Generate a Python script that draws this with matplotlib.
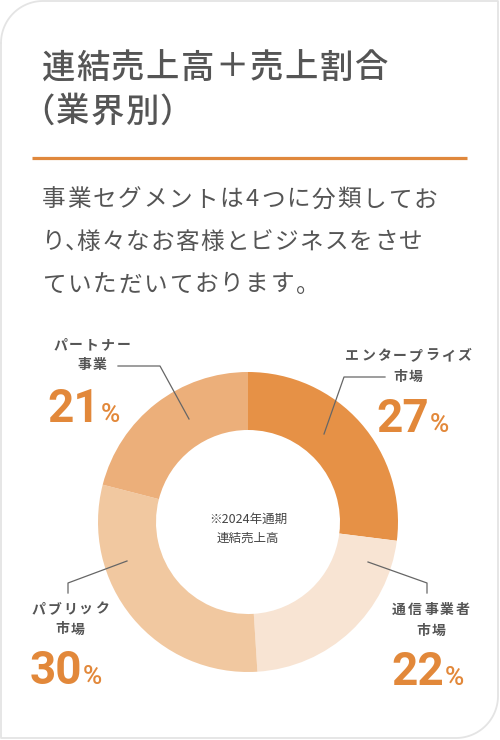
import numpy as np
from matplotlib import pyplot as plt

plt.rcParams['font.family'] = ['Noto Sans CJK JP', 'DejaVu Sans']

# data
segments = [['エンタープライズ', '市場'], ['通信事業者', '市場'], ['パブリック', '市場'], ['パートナー', '事業']]
shares = [27, 22, 30, 21]
colors = ['#E69146', '#F8E4D3', '#F1C8A0', '#ECAF7A']

title_lines = ['連結売上高＋売上割合', '（業界別）']
body_lines = ['事業セグメントは4つに分類してお', 'り、様々なお客様とビジネスをさせ', 'ていただいております。']
center_note = ['※2024年通期', '連結売上高']

# label layout (pixel coords, y down): centre x, first line y, number right x, number baseline
label_pos = [(408, 356, 427, 432), (431, 610, 442, 685), (70, 609, 80, 684), (92, 345, 98, 422)]
leaders = [[(324, 434), (344, 377), (385, 377)],
           [(368, 562), (427, 583), (427, 593)],
           [(127, 561), (68, 583), (68, 593)],
           [(189, 419), (160, 366), (118, 366)]]

GRAY = '#555555'
ORANGE = '#E2883A'
W, H = 500, 740


def spaced(ax, x0, y, s, size, pitch, ha='left', **kw):
    # lay characters out with a fixed pitch (letter-spacing), narrower for half-width chars
    cells = []
    for c in s:
        if c == '、' and cells:
            # tight comma: join it to the previous char as a half-width comma
            prev, w = cells.pop()
            cells.append((prev + '､', w * 1.4))
        elif ord(c) > 0x2000:
            cells.append((c, pitch))
        else:
            cells.append((c, pitch * 0.62))
    if ha == 'center':
        x0 = x0 - sum(w for _, w in cells) / 2
    for c, w in cells:
        if len(c) > 1:
            ax.text(x0 + 1, y, c, ha='left', va='center', fontsize=size, **kw)
        else:
            ax.text(x0 + w / 2, y, c, ha='center', va='center', fontsize=size, **kw)
        x0 += w


fig = plt.figure(figsize=(W / 100, H / 100), dpi=100)

bg = fig.add_axes([0, 0, 1, 1], zorder=0)
bg.set_xlim(0, W)
bg.set_ylim(H, 0)
bg.axis('off')

# card outline: rounded top-left and bottom-right corners
r = 42
t = np.linspace(np.pi, 1.5 * np.pi, 30)
tl = np.column_stack([1 + r + r * np.cos(t), 1 + r + r * np.sin(t)])
t = np.linspace(0, 0.5 * np.pi, 30)
br = np.column_stack([498 - r + r * np.cos(t), 738 - r + r * np.sin(t)])
card = np.vstack([tl, [[498, 1]], br, [[1, 738]], tl[:1]])
bg.plot(card[:, 0], card[:, 1], color='#e4e4e4', lw=1.3)

# donut
pax = fig.add_axes([98 / W, (H - 672) / H, 300 / W, 300 / H], zorder=1)
pax.pie(shares, colors=colors, startangle=90, counterclock=False, radius=1,
        wedgeprops=dict(width=58 / 150, linewidth=0))
pax.set_xlim(-1, 1)
pax.set_ylim(-1, 1)
pax.axis('off')

ax = fig.add_axes([0, 0, 1, 1], zorder=2)
ax.set_xlim(0, W)
ax.set_ylim(H, 0)
ax.axis('off')
ax.patch.set_alpha(0)

# title + rule
spaced(ax, 41, 68, title_lines[0], 24, 34.7, color=GRAY, fontweight='medium')
spaced(ax, 20.5, 112, title_lines[1], 24, 34.7, color=GRAY, fontweight='medium')
ax.plot([32, 467], [158, 158], color='#E0883C', lw=2.3, solid_capstyle='butt')

# body text
body_pitch = [25.4, 24.8, 25.4]
for i, line in enumerate(body_lines):
    spaced(ax, 41, 200 + i * 42.5, line, 17, body_pitch[i], color=GRAY)

# centre note
ax.text(248, 519, center_note[0], ha='center', va='center', fontsize=9, color='#444444')
ax.text(248, 538, center_note[1], ha='center', va='center', fontsize=9, color='#444444')

# labels
for seg, val, (cx, ly, nx, ny), pts in zip(segments, shares, label_pos, leaders):
    spaced(ax, cx, ly, seg[0], 10, 16, ha='center', color=GRAY, fontweight='bold')
    spaced(ax, cx, ly + 20.5, seg[1], 10, 16, ha='center', color=GRAY, fontweight='bold')
    ax.text(nx + 2, ny, str(val), ha='right', va='baseline', fontsize=33, fontweight='bold',
            color=ORANGE, family=['Roboto', 'DejaVu Sans'])
    ax.text(nx + 3, ny, '%', ha='left', va='baseline', fontsize=19, fontweight='medium',
            color=ORANGE, family=['Roboto', 'DejaVu Sans'])
    xs, ys = zip(*pts)
    ax.plot(xs, ys, color='#666666', lw=0.9)

fig.savefig('out.png', dpi=100, facecolor='white')
